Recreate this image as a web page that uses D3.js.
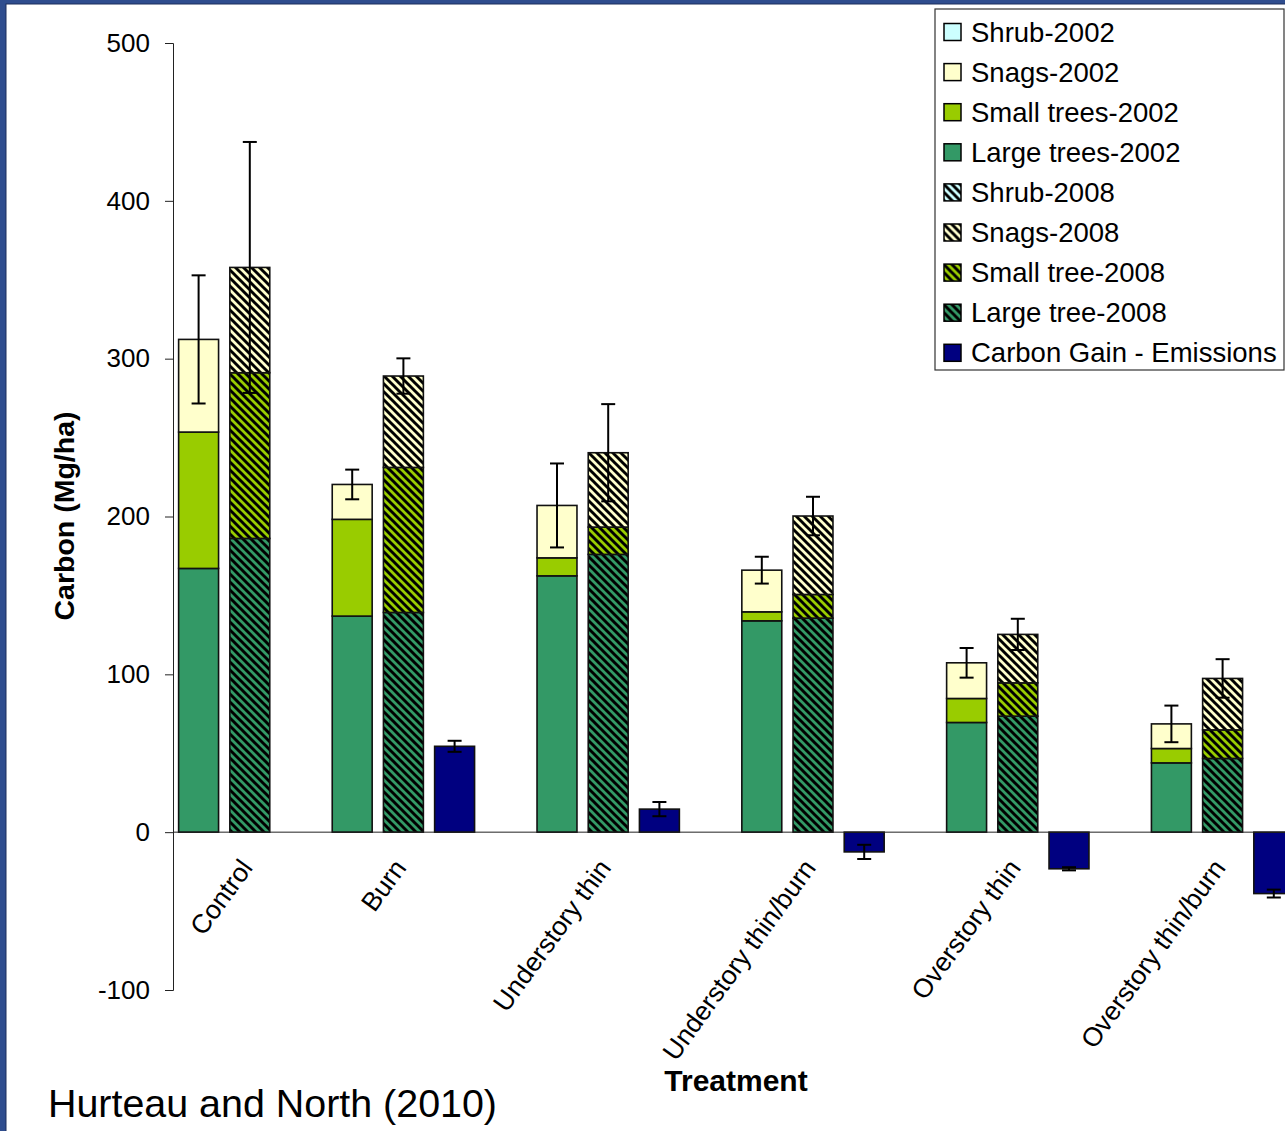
<!DOCTYPE html>
<html>
<head>
<meta charset="utf-8">
<script src="https://cdn.jsdelivr.net/npm/d3@7"></script>
<style>
  body { margin: 0; background: #fff; }
  svg { display: block; }
  text { font-family: "Liberation Sans", Arial, sans-serif; }
</style>
</head>
<body>
<svg id="chart" width="1285" height="1131"></svg>
<script>
// data (Mg/ha)
var categories = ["Control", "Burn", "Understory thin", "Understory thin/burn", "Overstory thin", "Overstory thin/burn"]

var large2002 = [167.1, 136.9, 162.4, 133.9, 69.5, 43.9]
var small2002 = [86.4, 61.3, 11.4, 5.7, 15.2, 9.1]
var snags2002 = [58.7, 22.1, 33.2, 26.4, 22.6, 15.6]
var shrub2002 = [0, 0, 0, 0, 0, 0]
var err2002 = [40.6, 9.4, 26.6, 8.5, 9.4, 11.6]

var large2008 = [186.1, 139.2, 176.0, 135.6, 73.5, 46.7]
var small2008 = [105.0, 91.9, 17.3, 15.0, 21.1, 18.1]
var snags2008 = [66.7, 57.9, 47.1, 49.7, 30.7, 32.6]
var shrub2008 = [0, 0, 0, 0, 0, 0]
var err2008 = [79.5, 11.2, 30.8, 12.2, 9.9, 12.2]

var gain = [null, 54.4, 14.6, -12.5, -23.2, -38.9]
var gainErr = [null, 3.5, 4.5, 4.5, 1, 2.5]

var yTicks = [-100, 0, 100, 200, 300, 400, 500]

var legendNames = ["Shrub-2002", "Snags-2002", "Small trees-2002", "Large trees-2002",
                   "Shrub-2008", "Snags-2008", "Small tree-2008", "Large tree-2008",
                   "Carbon Gain - Emissions"]

var colors = {shrub: "#ccffff", snags: "#ffffcc", small: "#99cc00", large: "#339966", gain: "#000080"}

var svg = d3.select("#chart")

// slide frame
svg.append("rect").attr("width", 1285).attr("height", 1131).attr("fill", "#2f4d8e")
svg.append("rect").attr("x", 6).attr("y", 4).attr("width", 1285).attr("height", 1131)
    .attr("fill", "#fff").attr("stroke", "#1c2f5c").attr("stroke-width", 1)

// hatch patterns for 2008
var defs = svg.append("defs")
;["shrub", "snags", "small", "large"].forEach(function(k){
    var p = defs.append("pattern").attr("id", "hatch-" + k)
        .attr("patternUnits", "userSpaceOnUse").attr("width", 8).attr("height", 8)
    p.append("rect").attr("width", 8).attr("height", 8).attr("fill", colors[k])
    p.append("path").attr("d", "M-4,4 L4,12 M0,0 L8,8 M4,-4 L12,4")
        .attr("stroke", "#000").attr("stroke-width", 2.9)
})

// slots: 2002, 2008, gain (if any), blank between treatments
var slots = []
categories.forEach(function(c, i){
    slots.push({cat: i, kind: "2002"})
    slots.push({cat: i, kind: "2008"})
    if (gain[i] != null) slots.push({cat: i, kind: "gain"})
    if (i < categories.length - 1) slots.push({cat: i, kind: "blank"})
})
slots.forEach(function(s, j){ s.id = j })

var scaleX = d3.scaleBand()
    .domain(slots.map(s => s.id))
    .range([173, 173 + 51.2 * slots.length])
    .paddingInner(0.22)
    .paddingOuter(0.11)

var scaleY = d3.scaleLinear().domain([-100, 500]).range([990, 43])

function slotOf(i, kind){ return slots.find(s => s.cat == i && s.kind == kind).id }

// stacked data
var keys = ["large", "small", "snags", "shrub"]
var rows2002 = categories.map((c, i) => ({large: large2002[i], small: small2002[i], snags: snags2002[i], shrub: shrub2002[i], i: i}))
var rows2008 = categories.map((c, i) => ({large: large2008[i], small: small2008[i], snags: snags2008[i], shrub: shrub2008[i], i: i}))
var stack = d3.stack().keys(keys)

var bars = svg.append("g")

function drawStack(rows, kind, fillFn){
    stack(rows).forEach(function(layer){
        bars.selectAll(null).data(layer.filter(d => d[1] - d[0] > 0)).enter()
            .append("rect")
            .attr("x", d => scaleX(slotOf(d.data.i, kind)))
            .attr("width", scaleX.bandwidth())
            .attr("y", d => scaleY(d[1]))
            .attr("height", d => scaleY(d[0]) - scaleY(d[1]))
            .attr("fill", fillFn(layer.key))
            .attr("stroke", "#111").attr("stroke-width", 1.6)
    })
}
drawStack(rows2002, "2002", k => colors[k])
drawStack(rows2008, "2008", k => "url(#hatch-" + k + ")")

var gainRows = categories.map((c, i) => ({i: i, v: gain[i], e: gainErr[i]})).filter(d => d.v != null)
bars.selectAll(null).data(gainRows).enter()
    .append("rect")
    .attr("x", d => scaleX(slotOf(d.i, "gain")))
    .attr("width", scaleX.bandwidth())
    .attr("y", d => scaleY(Math.max(0, d.v)))
    .attr("height", d => Math.abs(scaleY(d.v) - scaleY(0)))
    .attr("fill", colors.gain)
    .attr("stroke", "#111").attr("stroke-width", 1.6)

// error bars
var errRows = []
categories.forEach(function(c, i){
    errRows.push({i: i, kind: "2002", v: large2002[i] + small2002[i] + snags2002[i] + shrub2002[i], e: err2002[i]})
    errRows.push({i: i, kind: "2008", v: large2008[i] + small2008[i] + snags2008[i] + shrub2008[i], e: err2008[i]})
})
gainRows.forEach(d => errRows.push({i: d.i, kind: "gain", v: d.v, e: d.e}))

var eb = svg.append("g").attr("stroke", "#000").attr("stroke-width", 2)
errRows.forEach(function(d){
    var cx = scaleX(slotOf(d.i, d.kind)) + scaleX.bandwidth() / 2
    var y1 = scaleY(d.v + d.e), y2 = scaleY(d.v - d.e)
    eb.append("line").attr("x1", cx).attr("x2", cx).attr("y1", y1).attr("y2", y2)
    eb.append("line").attr("x1", cx - 7).attr("x2", cx + 7).attr("y1", y1).attr("y2", y1)
    eb.append("line").attr("x1", cx - 7).attr("x2", cx + 7).attr("y1", y2).attr("y2", y2)
})

// axes
var axisY = d3.axisLeft(scaleY).tickValues(yTicks).tickFormat(d => String(d))
    .tickSizeOuter(0).tickSize(8).tickPadding(15)
var gy = svg.append("g").attr("transform", "translate(173,0)").call(axisY)
gy.selectAll("text").attr("font-size", 26).attr("fill", "#000").attr("font-family", "Liberation Sans, Arial, sans-serif")
gy.selectAll("line,path").attr("stroke", "#222")

svg.append("line").attr("x1", 173).attr("x2", 1285).attr("y1", scaleY(0)).attr("y2", scaleY(0))
    .attr("stroke", "#222").attr("stroke-width", 1)

// category labels under the 2008 bars
svg.append("g").selectAll("text").data(categories).enter()
    .append("text")
    .attr("transform", (c, i) => "translate(" + (scaleX(slotOf(i, "2008")) + scaleX.bandwidth() / 2 + 4) + ",868) rotate(-54)")
    .attr("text-anchor", "end")
    .attr("font-size", 26.5)
    .text(c => c)

svg.append("text").attr("x", 736).attr("y", 1091).attr("text-anchor", "middle")
    .attr("font-size", 30).attr("font-weight", "bold").text("Treatment")

svg.append("text").attr("transform", "translate(74,516) rotate(-90)").attr("text-anchor", "middle")
    .attr("font-size", 28.5).attr("font-weight", "bold").text("Carbon (Mg/ha)")

// legend
var legend = svg.append("g")
legend.append("rect").attr("x", 935).attr("y", 9).attr("width", 349).attr("height", 361)
    .attr("fill", "#fff").attr("stroke", "#333").attr("stroke-width", 1.2)
var legendFills = [colors.shrub, colors.snags, colors.small, colors.large,
                   "url(#hatch-shrub)", "url(#hatch-snags)", "url(#hatch-small)", "url(#hatch-large)", colors.gain]
var li = legend.selectAll("g.item").data(legendNames).enter().append("g")
    .attr("transform", (d, i) => "translate(944," + (32 + i * 40.1) + ")")
li.append("rect").attr("x", 0).attr("y", -8.5).attr("width", 17).attr("height", 17)
    .attr("fill", (d, i) => legendFills[i]).attr("stroke", "#000").attr("stroke-width", 1.5)
li.append("text").attr("x", 27).attr("y", 9.5).attr("font-size", 27.5).text(d => d)

svg.append("text").attr("x", 48).attr("y", 1117)
    .attr("font-family", "Lato, 'Open Sans', sans-serif").attr("font-size", 39)
    .attr("textLength", 449).attr("lengthAdjust", "spacingAndGlyphs")
    .text("Hurteau and North (2010)")
</script>
</body>
</html>
